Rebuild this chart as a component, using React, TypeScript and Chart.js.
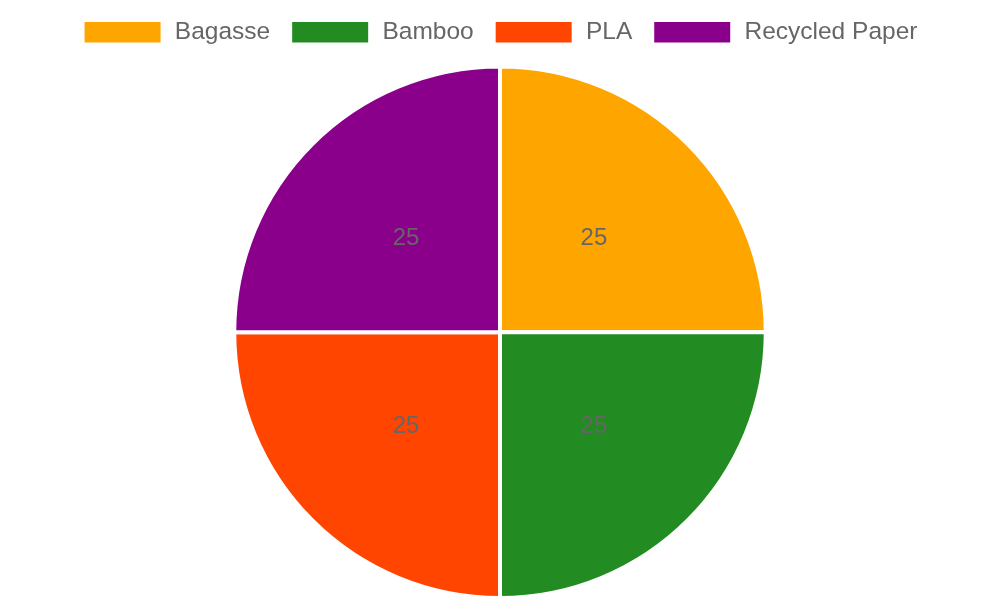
import React, { useEffect, useRef } from 'react';
import { Chart, registerables } from 'chart.js';

Chart.register(...registerables);

const materials = ['Bagasse', 'Bamboo', 'PLA', 'Recycled Paper'];
const shares = [25, 25, 25, 25];
const sliceColors = ['#FFA500', '#228B22', '#FF4500', '#8B008B'];

// draws each slice's value in the middle of the slice
const valueLabels = {
  id: 'valueLabels',
  afterDatasetsDraw(chart: Chart) {
    const ctx = chart.ctx;
    const meta = chart.getDatasetMeta(0);
    ctx.save();
    ctx.font = '24px "Liberation Sans", Arial, sans-serif';
    ctx.fillStyle = '#666666';
    ctx.textAlign = 'center';
    ctx.textBaseline = 'middle';
    meta.data.forEach((arc: any, i: number) => {
      const pos = arc.tooltipPosition();
      ctx.fillText(String(chart.data.datasets[0].data[i]), pos.x, pos.y);
    });
    ctx.restore();
  },
};

// a bit more room under the legend
const legendGap = {
  id: 'legendGap',
  beforeInit(chart: any) {
    const legend = chart.legend;
    if (!legend) return;
    const fit = legend.fit;
    legend.fit = function () {
      fit.bind(legend)();
      this.height += 10;
    };
  },
};

export default function App() {
  const chartRef = useRef<HTMLCanvasElement>(null);
  const chartInstance = useRef<Chart | null>(null);

  useEffect(() => {
    document.body.style.margin = '0';
    if (!chartRef.current) return;
    if (chartInstance.current) chartInstance.current.destroy();

    chartInstance.current = new Chart(chartRef.current, {
      type: 'pie',
      data: {
        labels: materials,
        datasets: [
          {
            data: shares,
            backgroundColor: sliceColors,
            borderColor: '#ffffff',
            borderWidth: 4,
          },
        ],
      },
      options: {
        responsive: true,
        maintainAspectRatio: false,
        animation: false,
        plugins: {
          legend: {
            position: 'top',
            labels: {
              boxWidth: 80,
              padding: 20,
              color: '#666666',
              font: { size: 24.5, family: '"Liberation Sans", Arial, sans-serif' },
            },
          },
          tooltip: { enabled: false },
        },
      },
      plugins: [valueLabels, legendGap],
    });

    return () => {
      if (chartInstance.current) {
        chartInstance.current.destroy();
        chartInstance.current = null;
      }
    };
  }, []);

  return (
    <div style={{ width: 1000, height: 600, position: 'relative' }}>
      <canvas ref={chartRef} />
    </div>
  );
}
